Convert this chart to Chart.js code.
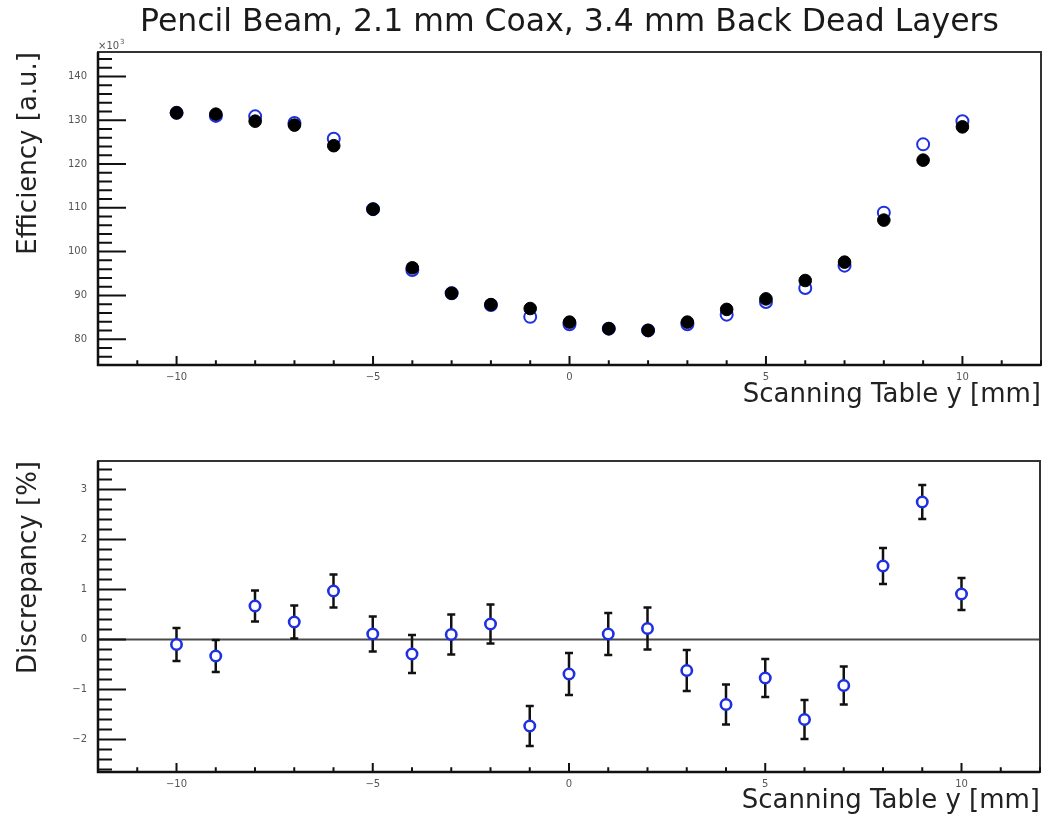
<!DOCTYPE html>
<html>
<head>
<meta charset="utf-8">
<title>Pencil Beam, 2.1 mm Coax, 3.4 mm Back Dead Layers</title>
<script src="https://cdn.jsdelivr.net/npm/chart.js@4.4.1/dist/chart.umd.min.js"></script>
<style>
  body { margin: 0; background: #fff; }
  canvas { position: absolute; left: 0; }
  #efficiencyChart { top: 0; }
  #discrepancyChart { top: 410px; }
</style>
</head>
<body>
<canvas id="efficiencyChart" width="1055" height="410"></canvas>
<canvas id="discrepancyChart" width="1055" height="407"></canvas>
<script>
// scanning table positions [mm]
const tableY = [-10, -9, -8, -7, -6, -5, -4, -3, -2, -1, 0, 1, 2, 3, 4, 5, 6, 7, 8, 9, 10];

// efficiency [a.u.] in units of 10^3
const effFilled = [131.7, 131.4, 129.8, 128.9, 124.2, 109.7, 96.3, 90.5, 87.9, 87.0, 83.9,
  82.4, 82.0, 83.9, 86.8, 89.2, 93.4, 97.6, 107.2, 120.9, 128.5];
const effOpen = [131.7, 131.0, 130.9, 129.4, 125.8, 109.7, 95.8, 90.5, 87.8, 85.1, 83.4,
  82.4, 82.0, 83.4, 85.6, 88.5, 91.7, 96.8, 108.9, 124.5, 129.8];

// discrepancy [%] and its uncertainty
const discrepancy = [-0.10, -0.33, 0.67, 0.35, 0.97, 0.11, -0.29, 0.10, 0.31, -1.73, -0.69,
  0.11, 0.22, -0.62, -1.30, -0.77, -1.60, -0.92, 1.47, 2.75, 0.91];
const discrepancyErr = [0.33, 0.32, 0.31, 0.33, 0.33, 0.35, 0.38, 0.40, 0.39, 0.40, 0.42,
  0.42, 0.42, 0.41, 0.40, 0.38, 0.39, 0.38, 0.36, 0.34, 0.32];

// axis ranges
const xRange = [-12, 12];
const effRange = [74.1, 145.6];
const discRange = [-2.65, 3.57];

const FONT = 'DejaVu Sans';
const BLUE = '#1f30e0';
const TITLE = 'Pencil Beam, 2.1 mm Coax, 3.4 mm Back Dead Layers';

const toPoints = (values) => values.map((v, i) => ({ x: tableY[i], y: v }));
const rootLabel = (v) => (v < 0 ? `\u2212${Math.abs(v)}` : `${v}`);
const onStep = (v, step) => Math.abs(v / step - Math.round(v / step)) < 1e-6;

// ROOT-like frame with inward ticks, optional zero line, error bars and pad title
function rootAxes({ yMajor, yMinor, zeroLine = false, errors = null, exponent = null, title = null }) {
  const each = (scale, step, fn) => {
    for (let v = Math.ceil(scale.min / step) * step; v <= scale.max + 1e-9; v += step) {
      fn(v, scale.getPixelForValue(v));
    }
  };
  return {
    id: 'rootAxes',
    beforeDatasetsDraw(chart) {
      const { ctx, chartArea: a, scales: { x, y } } = chart;
      ctx.save();
      if (zeroLine) {
        ctx.strokeStyle = '#4a4a4a';
        ctx.lineWidth = 2;
        const py = y.getPixelForValue(0);
        ctx.beginPath();
        ctx.moveTo(a.left, py);
        ctx.lineTo(a.right, py);
        ctx.stroke();
      }
      if (errors) {
        ctx.strokeStyle = '#111';
        ctx.lineWidth = 2.5;
        errors.err.forEach((e, i) => {
          const px = x.getPixelForValue(tableY[i]);
          const lo = y.getPixelForValue(errors.values[i] - e);
          const hi = y.getPixelForValue(errors.values[i] + e);
          ctx.beginPath();
          ctx.moveTo(px, lo);
          ctx.lineTo(px, hi);
          ctx.moveTo(px - 4, lo);
          ctx.lineTo(px + 4, lo);
          ctx.moveTo(px - 4, hi);
          ctx.lineTo(px + 4, hi);
          ctx.stroke();
        });
      }
      ctx.restore();
    },
    afterDraw(chart) {
      const { ctx, chartArea: a, scales: { x, y } } = chart;
      ctx.save();
      ctx.strokeStyle = '#333';
      ctx.lineWidth = 2;
      ctx.strokeRect(a.left, a.top, a.right - a.left, a.bottom - a.top);

      ctx.strokeStyle = '#111';
      ctx.lineWidth = 2;
      ctx.beginPath();
      each(x, 1, (v, px) => {
        const len = onStep(v, 5) ? 9 : 4.7;
        ctx.moveTo(px, a.bottom);
        ctx.lineTo(px, a.bottom - len);
      });
      each(y, yMinor, (v, py) => {
        const len = onStep(v, yMajor) ? 28 : 14;
        ctx.moveTo(a.left, py);
        ctx.lineTo(a.left + len, py);
      });
      ctx.stroke();

      ctx.lineWidth = 2.5;
      ctx.beginPath();
      ctx.moveTo(a.left, a.top);
      ctx.lineTo(a.left, a.bottom);
      ctx.lineTo(a.right, a.bottom);
      ctx.stroke();

      if (exponent) {
        ctx.fillStyle = '#555';
        ctx.textBaseline = 'alphabetic';
        ctx.font = `10px "${FONT}"`;
        ctx.fillText('\u00d710', a.left, a.top - 3);
        const w = ctx.measureText('\u00d710').width;
        ctx.font = `7px "${FONT}"`;
        ctx.fillText(exponent, a.left + w + 1, a.top - 8);
      }

      if (title) {
        // centred over the frame, like ROOT's pad title
        ctx.fillStyle = '#1a1a1a';
        ctx.textAlign = 'center';
        ctx.textBaseline = 'middle';
        ctx.font = `31.5px "${FONT}"`;
        ctx.fillText(title, (a.left + a.right) / 2, 23);
      }
      ctx.restore();
    }
  };
}

function xScale(titlePad) {
  return {
    type: 'linear',
    min: xRange[0],
    max: xRange[1],
    afterFit: (s) => { s.height = 45; },
    afterBuildTicks: (s) => { s.ticks = s.ticks.filter((t) => onStep(t.value, 5)); },
    ticks: {
      stepSize: 5,
      padding: 6,
      color: '#555',
      autoSkip: false,
      maxRotation: 0,
      font: { family: FONT, size: 10 },
      callback: rootLabel
    },
    grid: { display: false, drawTicks: false },
    border: { display: false },
    title: {
      display: true,
      text: 'Scanning Table y [mm]',
      align: 'end',
      color: '#222',
      font: { family: FONT, size: 26 },
      padding: { top: 0, bottom: titlePad }
    }
  };
}

function yScale(range, step, text) {
  return {
    type: 'linear',
    min: range[0],
    max: range[1],
    afterFit: (s) => { s.width = 98; },
    afterBuildTicks: (s) => { s.ticks = s.ticks.filter((t) => onStep(t.value, step)); },
    ticks: {
      stepSize: step,
      padding: 11,
      color: '#555',
      autoSkip: false,
      font: { family: FONT, size: 10 },
      callback: rootLabel
    },
    grid: { display: false, drawTicks: false },
    border: { display: false },
    title: {
      display: true,
      text,
      align: 'end',
      color: '#222',
      font: { family: FONT, size: 26 },
      padding: { top: 14, bottom: 0 }
    }
  };
}

const common = {
  responsive: false,
  animation: false,
  events: []
};

// eslint-disable-next-line no-new
new Chart(document.getElementById('efficiencyChart'), {
  type: 'scatter',
  data: {
    datasets: [{
      label: 'open',
      data: toPoints(effOpen),
      order: 2,
      pointRadius: 6,
      pointBorderWidth: 2,
      pointBorderColor: BLUE,
      pointBackgroundColor: '#fff'
    }, {
      label: 'filled',
      data: toPoints(effFilled),
      order: 1,
      pointRadius: 6.3,
      pointBorderWidth: 1,
      pointBorderColor: '#000',
      pointBackgroundColor: '#000'
    }]
  },
  options: {
    ...common,
    layout: { padding: { top: 52, right: 14, bottom: 0, left: 0 } },
    scales: {
      x: xScale(-1),
      y: yScale(effRange, 10, 'Efficiency [a.u.]')
    },
    plugins: {
      legend: { display: false },
      tooltip: { enabled: false },
      title: { display: false }
    }
  },
  plugins: [rootAxes({ yMajor: 10, yMinor: 2, exponent: '3', title: TITLE })]
});

// eslint-disable-next-line no-new
new Chart(document.getElementById('discrepancyChart'), {
  type: 'scatter',
  data: {
    datasets: [{
      label: 'discrepancy',
      data: toPoints(discrepancy),
      pointRadius: 5.2,
      pointBorderWidth: 2.6,
      pointBorderColor: BLUE,
      pointBackgroundColor: '#fff'
    }]
  },
  options: {
    ...common,
    layout: { padding: { top: 51, right: 15, bottom: 0, left: 0 } },
    scales: {
      x: xScale(0),
      y: yScale(discRange, 1, 'Discrepancy [%]')
    },
    plugins: {
      legend: { display: false },
      tooltip: { enabled: false }
    }
  },
  plugins: [rootAxes({
    yMajor: 1,
    yMinor: 0.2,
    zeroLine: true,
    errors: { values: discrepancy, err: discrepancyErr }
  })]
});
</script>
</body>
</html>
